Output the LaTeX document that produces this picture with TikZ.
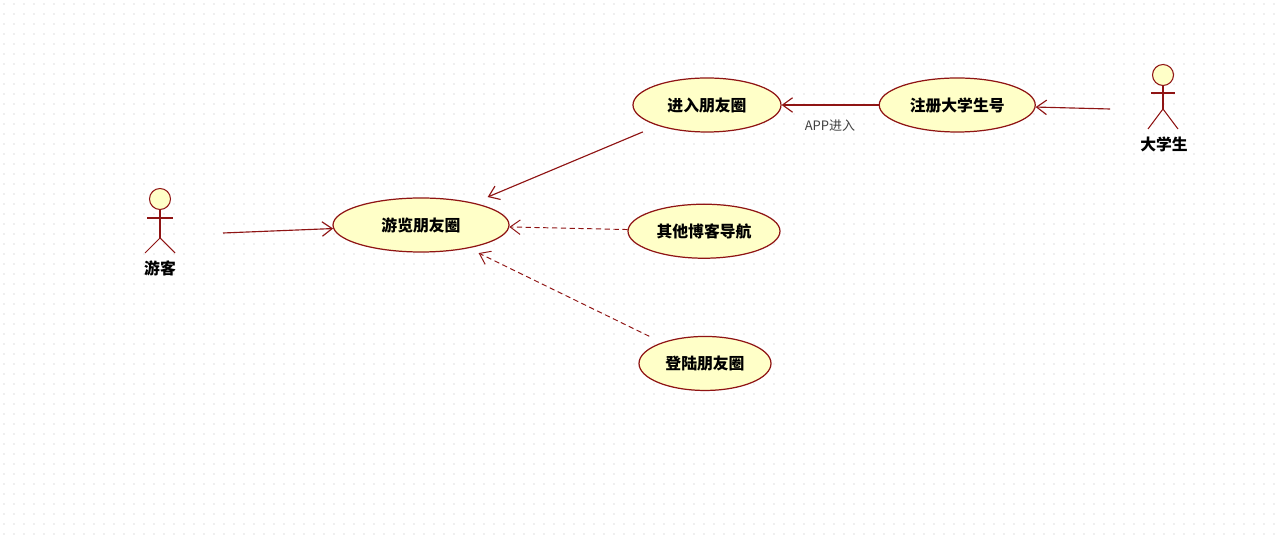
\documentclass[tikz,border=0pt]{standalone}
\usepackage{fontspec}
\setmainfont{Noto Sans CJK SC}
\usetikzlibrary{shapes.geometric, arrows, arrows.meta, positioning}
\definecolor{umlline}{HTML}{8F1414}
\definecolor{umlfill}{HTML}{FFFFC8}
\tikzstyle{arrow} = [umlline, line width=0.65pt, -{Straight Barb[length=2mm,width=2.9mm]}]
\tikzstyle{dasharrow} = [arrow, densely dashed, line width=0.55pt]

\begin{document}
\begin{tikzpicture}[
        usecase/.style={ellipse, draw=umlline, line width=0.7pt, fill=umlfill, inner sep=0pt, minimum height=1.08cm, text height=8pt, text depth=1pt, font=\fontsize{9pt}{11pt}\selectfont\bfseries},
        actorlabel/.style={font=\fontsize{9pt}{11pt}\selectfont\bfseries, inner sep=0pt},
        actorhead/.style={circle, draw=umlline, fill=umlfill, line width=0.6pt, minimum size=0.42cm, inner sep=0pt},
        actorline/.style={umlline, line width=0.6pt}
      ]
        \useasboundingbox (0,0) rectangle (25.5,10.74);

        % Dotted background
        \foreach \x in {0,...,127}
          \foreach \y in {0,...,53}
            \fill [black!28] (0.08+\x*0.2,0.06+\y*0.2) circle (0.012);

        % Use cases
        \node (browse) [usecase, minimum width=3.52cm] at (8.42,6.24) {游览朋友圈};
        \node (enter) [usecase, minimum width=2.96cm] at (14.14,8.64) {进入朋友圈};
        \node (register) [usecase, minimum width=3.12cm, right=1.94cm of enter] {注册大学生号};
        \node (nav) [usecase, minimum width=3.04cm, below=1.42cm of enter, xshift=-0.06cm] {其他博客导航};
        \node (login) [usecase, minimum width=2.64cm, below=1.54cm of nav, xshift=0.02cm] {登陆朋友圈};

        % Visitor
        \node (visitor_head) [actorhead] at (3.2,6.76) {};
        \coordinate (visitor_hip) at (3.2,5.98);
        \coordinate (visitor_out) at (4.46,6.08);
        \draw [actorline] (visitor_head.south) -- (visitor_hip);
        \draw [actorline] (2.94,6.38) -- (3.46,6.38);
        \draw [actorline] (2.9,5.68) -- (visitor_hip) -- (3.5,5.68);
        \node (visitor_label) [actorlabel] at (3.2,5.38) {游客};

        % Student
        \node (student_head) [actorhead] at (23.26,9.24) {};
        \coordinate (student_hip) at (23.26,8.56);
        \coordinate (student_out) at (22.2,8.56);
        \draw [actorline] (student_head.south) -- (student_hip);
        \draw [actorline] (23.02,8.88) -- (23.5,8.88);
        \draw [actorline] (22.96,8.16) -- (student_hip) -- (23.56,8.16);
        \node (student_label) [actorlabel] at (23.28,7.86) {大学生};

        % Arrows
        \draw [arrow] (visitor_out) -- (browse);
        \draw [arrow] (student_out) -- (register);
        \draw [arrow] (register) -- (enter);
        \draw [arrow, shorten <=0.32cm, shorten >=0.3cm] (enter) -- (browse);
        \draw [dasharrow] (nav) -- (browse);
        \draw [dasharrow, shorten <=0.28cm, shorten >=0.22cm] (login) -- (browse);

        % Labels
        \node (app_label) [inner sep=0pt, font=\fontsize{7.4pt}{9pt}\selectfont, text=black!75] at (16.6,8.22) {APP进入};
      \end{tikzpicture}
\end{document}
